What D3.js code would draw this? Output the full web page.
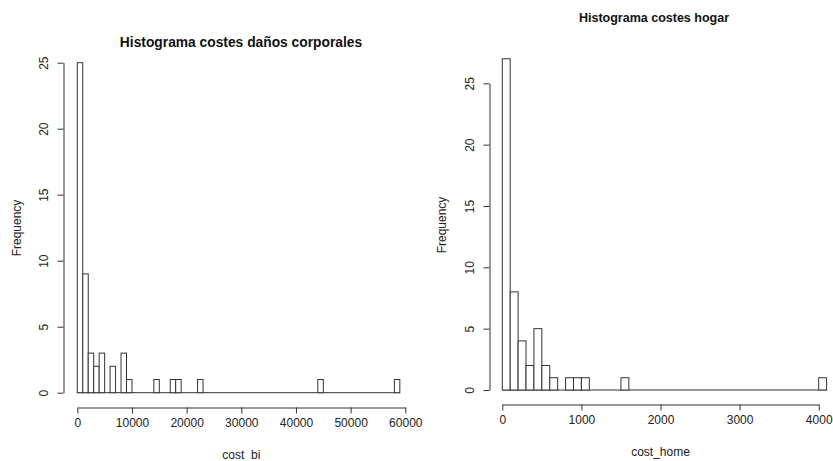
<!DOCTYPE html>
<html>
<head>
<meta charset="utf-8">
<script src="https://cdn.jsdelivr.net/npm/d3@7/dist/d3.min.js"></script>
<style>
  html, body { margin: 0; padding: 0; background: #fff; }
  svg { display: block; font-family: "Liberation Sans", Arial, sans-serif; }
</style>
</head>
<body>
<svg id="chart" width="833" height="461"></svg>
<script>
// ---- Data ----
// Left histogram: cost_bi, bin width 1000, lower edges of non-empty bins
const biBinStarts = [0, 1000, 2000, 3000, 4000, 6000, 8000, 9000, 14000, 17000, 18000, 22000, 44000, 58000];
const biCounts    = [25, 9, 3, 2, 3, 2, 3, 1, 1, 1, 1, 1, 1, 1];
const biBinWidth = 1000;
const biLastBreak = 59000;
const biXTicks = [0, 10000, 20000, 30000, 40000, 50000, 60000];
const biYTicks = [0, 5, 10, 15, 20, 25];
const biTitle = "Histograma costes daños corporales";
const biXLabel = "cost_bi";

// Right histogram: cost_home, bin width 100
const homeBinStarts = [0, 100, 200, 300, 400, 500, 600, 800, 900, 1000, 1500, 4000];
const homeCounts    = [27, 8, 4, 2, 5, 2, 1, 1, 1, 1, 1, 1];
const homeBinWidth = 100;
const homeLastBreak = 4100;
const homeXTicks = [0, 1000, 2000, 3000, 4000];
const homeYTicks = [0, 5, 10, 15, 20, 25];
const homeTitle = "Histograma costes hogar";
const homeXLabel = "cost_home";

const yLabel = "Frequency";

const svg = d3.select("#chart");
const ink = "#333";
const textInk = "#222";

function drawHist(cfg) {
  const x = d3.scaleLinear().domain(cfg.xDomain).range(cfg.xRange);
  const y = d3.scaleLinear().domain(cfg.yDomain).range(cfg.yRange);
  const g = svg.append("g");

  // baseline across all bins (R draws empty bins as flat rectangles)
  g.append("line")
    .attr("x1", x(0)).attr("x2", x(cfg.lastBreak))
    .attr("y1", y(0)).attr("y2", y(0))
    .attr("stroke", ink).attr("stroke-width", 1);

  g.selectAll("rect.bar")
    .data(cfg.starts.map((s, i) => ({ s, c: cfg.counts[i] })))
    .join("rect")
    .attr("class", "bar")
    .attr("x", d => x(d.s))
    .attr("width", d => x(d.s + cfg.binWidth) - x(d.s))
    .attr("y", d => y(d.c))
    .attr("height", d => y(0) - y(d.c))
    .attr("fill", "#fff")
    .attr("stroke", ink)
    .attr("stroke-width", 1);

  // x axis
  const xAxis = d3.axisBottom(x).tickValues(cfg.xTicks).tickSize(6).tickSizeOuter(0)
    .tickPadding(5).tickFormat(d3.format("d"));
  const gx = g.append("g").attr("transform", `translate(0,${cfg.xAxisY})`).call(xAxis);
  gx.selectAll("path, line").attr("stroke", ink);
  gx.selectAll("text").attr("fill", textInk).style("font-size", "12px")
    .style("font-family", "Liberation Sans, Arial, sans-serif");

  // y axis
  const yAxis = d3.axisLeft(y).tickValues(cfg.yTicks).tickSize(6).tickSizeOuter(0)
    .tickFormat(d3.format("d"));
  const gy = g.append("g").attr("transform", `translate(${cfg.yAxisX},0)`).call(yAxis);
  gy.selectAll("path, line").attr("stroke", ink);
  gy.selectAll("text")
    .attr("x", null).attr("dy", null)
    .attr("transform", "translate(-20,0) rotate(-90)")
    .attr("dy", "0.35em")
    .attr("text-anchor", "middle")
    .attr("fill", textInk).style("font-size", "12px")
    .style("font-family", "Liberation Sans, Arial, sans-serif");

  // title
  svg.append("text")
    .attr("x", cfg.titleX).attr("y", cfg.titleY)
    .attr("text-anchor", "middle")
    .attr("font-weight", "bold").attr("font-size", cfg.titleSize)
    .attr("fill", "#111")
    .text(cfg.title);

  // x label
  svg.append("text")
    .attr("x", (cfg.xRange[0] + cfg.xRange[1]) / 2).attr("y", cfg.xLabelY)
    .attr("text-anchor", "middle").attr("font-size", 12).attr("fill", textInk)
    .text(cfg.xLabel);

  // y label
  svg.append("text")
    .attr("transform", `translate(${cfg.yLabelX},${cfg.yLabelY}) rotate(-90)`)
    .attr("dy", "0.35em")
    .attr("text-anchor", "middle").attr("font-size", 12).attr("fill", textInk)
    .text(yLabel);
}

drawHist({
  starts: biBinStarts, counts: biCounts, binWidth: biBinWidth, lastBreak: biLastBreak,
  xDomain: [0, 60000], xRange: [77.3, 405.3],
  yDomain: [0, 25], yRange: [392.7, 62.7],
  xTicks: biXTicks, yTicks: biYTicks,
  xAxisY: 407.5, yAxisX: 63.5,
  title: biTitle, titleX: 241, titleY: 47, titleSize: 13.8,
  xLabel: biXLabel, xLabelY: 459,
  yLabelX: 17, yLabelY: 228
});

drawHist({
  starts: homeBinStarts, counts: homeCounts, binWidth: homeBinWidth, lastBreak: homeLastBreak,
  xDomain: [0, 4000], xRange: [502.3, 818.7],
  yDomain: [0, 25], yRange: [390, 83.3],
  xTicks: homeXTicks, yTicks: homeYTicks,
  xAxisY: 404.5, yAxisX: 489.5,
  title: homeTitle, titleX: 654, titleY: 22, titleSize: 12.5,
  xLabel: homeXLabel, xLabelY: 456,
  yLabelX: 442, yLabelY: 225
});
</script>
</body>
</html>
